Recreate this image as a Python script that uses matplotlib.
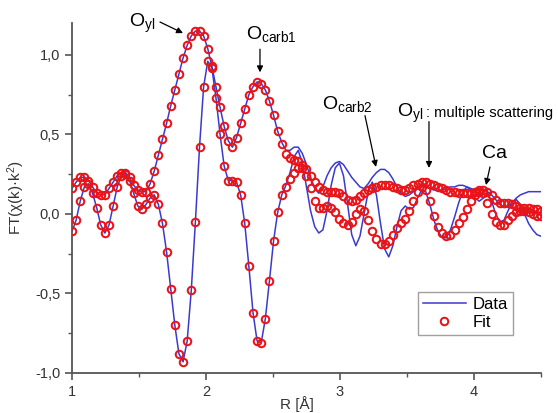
import numpy as np
import matplotlib
matplotlib.use("Agg")
import matplotlib.pyplot as plt
from matplotlib.ticker import MultipleLocator, FuncFormatter

plt.rcParams['font.family'] = ['Liberation Sans', 'DejaVu Sans']
plt.rcParams['mathtext.default'] = 'regular'

# R grid of the Fourier transform (A)
r_start = 1.0
r_step = 0.0307

# Fit: magnitude and imaginary part
fit_mag = [0.16, 0.20, 0.23, 0.23, 0.21, 0.17, 0.13, 0.12, 0.12, 0.16,
           0.20, 0.24, 0.26, 0.26, 0.23, 0.18, 0.15, 0.14, 0.14, 0.19,
           0.27, 0.37, 0.47, 0.57, 0.68, 0.78, 0.88, 0.98, 1.06, 1.12,
           1.15, 1.15, 1.12, 1.04, 0.93, 0.80, 0.67, 0.55, 0.46, 0.42,
           0.48, 0.57, 0.66, 0.75, 0.80, 0.83, 0.82, 0.78, 0.71, 0.62,
           0.52, 0.44, 0.38, 0.35, 0.34, 0.33, 0.31, 0.28, 0.24, 0.20,
           0.17, 0.15, 0.14, 0.14, 0.14, 0.13, 0.11, 0.09, 0.08, 0.09,
           0.11, 0.13, 0.15, 0.16, 0.17, 0.18, 0.18, 0.18, 0.17, 0.16,
           0.15, 0.15, 0.16, 0.18, 0.19, 0.20, 0.20, 0.19, 0.18, 0.17,
           0.16, 0.15, 0.14, 0.14, 0.13, 0.13, 0.13, 0.13, 0.14, 0.15,
           0.15, 0.14, 0.12, 0.09, 0.07, 0.07, 0.07, 0.06, 0.05, 0.04,
           0.04, 0.04, 0.03, 0.03, 0.02]
fit_im = [-0.11, -0.04, 0.08, 0.17, 0.19, 0.13, 0.04, -0.07, -0.12, -0.07,
          0.05, 0.17, 0.24, 0.25, 0.21, 0.13, 0.05, 0.03, 0.06, 0.10,
          0.12, 0.06, -0.06, -0.24, -0.47, -0.70, -0.88, -0.93, -0.80, -0.48,
          -0.05, 0.42, 0.80, 0.96, 0.92, 0.73, 0.50, 0.30, 0.21, 0.21,
          0.20, 0.12, -0.06, -0.33, -0.62, -0.80, -0.81, -0.66, -0.42, -0.17,
          0.01, 0.12, 0.17, 0.22, 0.26, 0.29, 0.29, 0.24, 0.16, 0.08,
          0.04, 0.04, 0.05, 0.04, 0.01, -0.03, -0.06, -0.07, -0.05, 0.00,
          0.03, 0.02, -0.04, -0.11, -0.16, -0.19, -0.19, -0.17, -0.13, -0.09,
          -0.06, -0.03, 0.02, 0.08, 0.14, 0.17, 0.15, 0.08, -0.01, -0.08,
          -0.12, -0.14, -0.13, -0.10, -0.06, -0.02, 0.03, 0.08, 0.12, 0.14,
          0.13, 0.07, 0.00, -0.05, -0.07, -0.07, -0.04, -0.01, 0.01, 0.02,
          0.02, 0.01, 0.00, -0.01, -0.01]

# Data: magnitude and imaginary part
data_mag = [0.16, 0.20, 0.23, 0.23, 0.21, 0.17, 0.13, 0.12, 0.12, 0.16,
            0.20, 0.24, 0.26, 0.26, 0.23, 0.18, 0.15, 0.14, 0.14, 0.19,
            0.27, 0.37, 0.47, 0.57, 0.68, 0.78, 0.88, 0.98, 1.06, 1.12,
            1.15, 1.15, 1.12, 1.04, 0.93, 0.80, 0.67, 0.55, 0.46, 0.42,
            0.48, 0.57, 0.66, 0.75, 0.80, 0.83, 0.82, 0.78, 0.71, 0.62,
            0.52, 0.45, 0.40, 0.40, 0.42, 0.42, 0.38, 0.31, 0.23, 0.16,
            0.13, 0.17, 0.24, 0.29, 0.32, 0.33, 0.31, 0.27, 0.23, 0.20,
            0.17, 0.16, 0.19, 0.23, 0.26, 0.28, 0.28, 0.26, 0.22, 0.17,
            0.13, 0.11, 0.12, 0.14, 0.16, 0.17, 0.17, 0.16, 0.15, 0.15,
            0.15, 0.16, 0.17, 0.17, 0.18, 0.18, 0.17, 0.16, 0.15, 0.15,
            0.15, 0.14, 0.12, 0.09, 0.06, 0.04, 0.05, 0.07, 0.10, 0.12,
            0.13, 0.14, 0.14, 0.14, 0.14]
data_im = [-0.11, -0.04, 0.08, 0.17, 0.19, 0.13, 0.04, -0.07, -0.12, -0.07,
           0.05, 0.17, 0.24, 0.25, 0.21, 0.13, 0.05, 0.03, 0.06, 0.10,
           0.12, 0.06, -0.06, -0.24, -0.47, -0.70, -0.88, -0.93, -0.80, -0.48,
           -0.05, 0.42, 0.80, 0.96, 0.92, 0.73, 0.50, 0.30, 0.21, 0.21,
           0.20, 0.12, -0.06, -0.33, -0.62, -0.80, -0.81, -0.66, -0.42, -0.17,
           0.01, 0.12, 0.18, 0.26, 0.36, 0.40, 0.32, 0.17, 0.02, -0.08,
           -0.12, -0.10, 0.02, 0.18, 0.29, 0.32, 0.24, 0.06, -0.13, -0.20,
           -0.14, 0.00, 0.14, 0.20, 0.12, -0.06, -0.22, -0.27, -0.20, -0.08,
           0.02, 0.05, 0.03, 0.04, 0.10, 0.15, 0.14, 0.06, -0.04, -0.11,
           -0.15, -0.15, -0.10, -0.02, 0.07, 0.14, 0.17, 0.15, 0.10, 0.08,
           0.10, 0.12, 0.08, 0.00, -0.05, -0.04, 0.02, 0.07, 0.09, 0.06,
           0.00, -0.06, -0.10, -0.13, -0.14]

r = r_start + r_step * np.arange(len(fit_mag))

blue = '#3a3ad0'
red = '#e8141a'

fig = plt.figure(figsize=(5.58, 4.13), dpi=100)
ax = fig.add_axes([0.129, 0.097, 0.8405, 0.847])

ax.plot(r, data_mag, color=blue, lw=1.1, label='Data', zorder=2)
ax.plot(r, data_im, color=blue, lw=1.1, zorder=2)
ax.plot(r, fit_mag, 'o', mfc='none', mec=red, mew=1.45, ms=5.4, label='Fit', zorder=3)
ax.plot(r, fit_im, 'o', mfc='none', mec=red, mew=1.45, ms=5.4, zorder=3)

ax.set_xlim(1, 4.5)
ax.set_ylim(-1.0, 1.2)
for side in ['top', 'right']:
    ax.spines[side].set_visible(False)
for side in ['left', 'bottom']:
    ax.spines[side].set_color('#555555')
    ax.spines[side].set_linewidth(1.3)

ax.xaxis.set_major_locator(MultipleLocator(1))
ax.xaxis.set_minor_locator(MultipleLocator(0.5))
ax.yaxis.set_major_locator(MultipleLocator(0.5))
ax.yaxis.set_minor_locator(MultipleLocator(0.25))
ax.yaxis.set_major_formatter(FuncFormatter(lambda v, p: ('%.1f' % v).replace('.', ',')))
ax.tick_params(which='major', direction='out', length=5, width=1.2, color='#555555',
               labelsize=10.5, labelcolor='#333333')
ax.tick_params(which='minor', direction='out', length=3, width=1.0, color='#555555')

ax.set_xlabel('R [Å]', fontsize=11, color='#333333')
ax.xaxis.set_label_coords(0.48, -0.065)
ax.set_ylabel('FT(χ(k)·k$^{2}$)', fontsize=11, color='#333333')
ax.yaxis.set_label_coords(-0.095, 0.5)

def px(x, y):
    return (1 + (x - 72) / 134.0, (213.7 - y) / 158.0)

arrow = dict(arrowstyle='-|>', color='black', lw=0.9, mutation_scale=9, shrinkA=0, shrinkB=0)

ax.text(*px(129, 24), 'O$_{yl}$', fontsize=14, va='center', ha='left')
ax.annotate('', xy=px(183, 34), xytext=px(160, 23), arrowprops=arrow, annotation_clip=False)

ax.text(*px(246, 35), 'O$_{carb1}$', fontsize=14, va='center', ha='left')
ax.annotate('', xy=px(260, 73), xytext=px(260, 50), arrowprops=arrow, annotation_clip=False)

ax.text(*px(322, 104), 'O$_{carb2}$', fontsize=14, va='center', ha='left')
ax.annotate('', xy=px(376, 167), xytext=px(365, 116), arrowprops=arrow, annotation_clip=False)

ax.text(*px(397, 114), 'O$_{yl}$', fontsize=14, va='center', ha='left')
ax.text(*px(426, 113), ': multiple scattering', fontsize=10.5, va='center', ha='left')
ax.annotate('', xy=px(429, 168), xytext=px(429, 122), arrowprops=arrow, annotation_clip=False)

ax.text(*px(482, 154), 'Ca', fontsize=14, va='center', ha='left')
ax.annotate('', xy=px(486, 185), xytext=px(490, 167), arrowprops=arrow, annotation_clip=False)

leg = ax.legend(loc='lower left', bbox_to_anchor=(0.737, 0.108), fontsize=12, frameon=True,
                fancybox=False, edgecolor='#888888', handlelength=2.6, borderpad=0.3,
                labelspacing=0.2, handletextpad=0.4, borderaxespad=0)
leg.get_frame().set_linewidth(1.0)

fig.savefig('out.png', dpi=100)
